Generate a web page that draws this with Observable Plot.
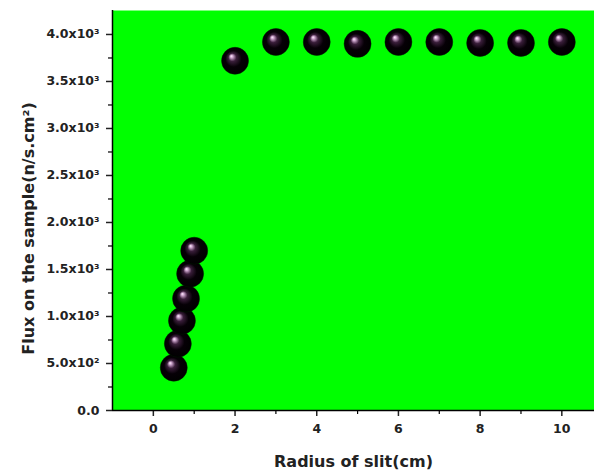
<!DOCTYPE html>
<html><head><meta charset="utf-8">
<script src="https://cdn.jsdelivr.net/npm/d3@7"></script>
<script src="https://cdn.jsdelivr.net/npm/@observablehq/plot@0.6"></script>
<style>body{margin:0;background:#fff}</style>
</head><body><div id="chart"></div>
<script>
const radius = [0.5, 0.6, 0.7, 0.8, 0.9, 1.0, 2, 3, 4, 5, 6, 7, 8, 9, 10];
const flux = [455, 710, 955, 1190, 1455, 1700, 3720, 3920, 3920, 3900, 3920, 3920, 3910, 3910, 3920];
const xTicks = [0, 2, 4, 6, 8, 10];
const xMinorTicks = [1, 3, 5, 7, 9];
const yTicks = [0, 500, 1000, 1500, 2000, 2500, 3000, 3500, 4000];
const yTickLabels = ["0.0", "5.0x10²", "1.0x10³", "1.5x10³", "2.0x10³", "2.5x10³", "3.0x10³", "3.5x10³", "4.0x10³"];
const yMinorTicks = [250, 750, 1250, 1750, 2250, 2750, 3250, 3750];
const xTitle = "Radius of slit(cm)";
const yTitle = "Flux on the sample(n/s.cm²)";

const data = radius.map((r, i) => ({r, f: flux[i]}));
const font = "DejaVu Sans";

const chart = Plot.plot({
  width: 594, height: 472,
  marginLeft: 112, marginRight: 0, marginTop: 10, marginBottom: 62,
  x: {domain: [-1, 10.8]},
  y: {domain: [0, 4255]},
  style: {fontFamily: font, fontWeight: "bold", background: "#fff", overflow: "visible"},
  marks: [
    Plot.frame({fill: "#00ff00", stroke: null}),
    Plot.axisX(xTicks, {tickSize: 6, tickPadding: 8, fontSize: 12.5, color: "#222", label: null, strokeWidth: 1.5}),
    Plot.axisX(xMinorTicks, {tickSize: 4, tickFormat: () => "", label: null, strokeWidth: 1.2}),
    Plot.axisY(yTicks, {tickSize: 6, tickPadding: 7, fontSize: 12.5, color: "#222", label: null, strokeWidth: 1.5,
      tickFormat: d => yTickLabels[yTicks.indexOf(d)]}),
    Plot.axisY(yMinorTicks, {tickSize: 4, tickFormat: () => "", label: null, strokeWidth: 1.2}),
    Plot.ruleY([0], {stroke: "#000", strokeWidth: 1.5}),
    Plot.ruleX([-1], {stroke: "#000", strokeWidth: 1.5}),
    Plot.dot(data, {x: "r", y: "f", r: 13.5, fill: "url(#ball)", stroke: "#001a00", strokeWidth: 0.8, strokeOpacity: 0.6}),
    Plot.text([xTitle], {frameAnchor: "bottom", dy: 51, lineAnchor: "middle", textAnchor: "middle", fontSize: 16, fontWeight: "bold", fill: "#222", fontFamily: font}),
    Plot.text([yTitle], {frameAnchor: "left", dx: -84, dy: 18, rotate: -90, textAnchor: "middle", lineAnchor: "middle", fontSize: 16, fontWeight: "bold", fill: "#222", fontFamily: font})
  ]
});

chart.insertAdjacentHTML("afterbegin",
  `<defs><radialGradient id="ball" cx="0.5" cy="0.5" r="0.5" fx="0.36" fy="0.32">
     <stop offset="0" stop-color="#fff4ff"/>
     <stop offset="0.1" stop-color="#d0a8d0"/>
     <stop offset="0.3" stop-color="#3a1e3a"/>
     <stop offset="0.6" stop-color="#060006"/>
     <stop offset="1" stop-color="#000"/>
   </radialGradient></defs>`);
document.getElementById("chart").append(chart);
</script>
</body></html>
